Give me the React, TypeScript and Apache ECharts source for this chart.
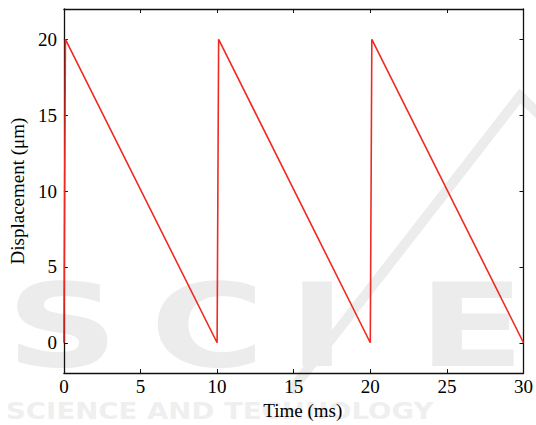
import React, { useEffect, useRef } from "react";
import * as echarts from "echarts";

const timeMs = [0, 0.1, 10, 10.1, 20, 20.1, 30];
const displacementUm = [0, 20, 0, 20, 0, 20, 0];
const yTicks = [0, 5, 10, 15, 20];
const xTicks = [0, 5, 10, 15, 20, 25, 30];

const SERIF = "Liberation Serif";
const WM = "#ececec";

export default function App() {
  const ref = useRef<HTMLDivElement>(null);
  useEffect(() => {
    if (!ref.current) return;
    const chart = echarts.init(ref.current, undefined, { renderer: "svg" });
    const axisLine = { show: true, onZero: false, lineStyle: { color: "#111", width: 1.3 } };
    const tick = { show: true, inside: true, length: 4, lineStyle: { color: "#111", width: 1 } };
    const letter = (t: string, x: number) => ({
      type: "text",
      x,
      y: 268,
      scaleX: 1.35,
      silent: true,
      z: -10,
      style: { text: t, fill: WM, fontSize: 116, fontWeight: "bold", fontFamily: "DejaVu Sans" },
    });
    chart.setOption({
      animation: false,
      backgroundColor: "#fff",
      graphic: [
        letter("S", 6),
        letter("C", 150),
        letter("I", 288),
        letter("E", 418),
        {
          type: "polyline",
          silent: true,
          z: -10,
          shape: { points: [[290, 392], [520, 96], [545, 120]] },
          style: { stroke: WM, lineWidth: 10, fill: null },
        },
        {
          type: "text",
          x: 6,
          y: 399,
          scaleX: 1.2,
          silent: true,
          z: -10,
          style: { text: "SCIENCE AND TECHNOLOGY", fill: "#efefef", fontSize: 23, fontWeight: "bold", fontFamily: "DejaVu Sans" },
        },
      ],
      grid: { left: 60, right: 7, top: 9, bottom: 47, containLabel: false },
      xAxis: [
        {
          type: "value",
          min: 0,
          max: 30,
          interval: 5,
          position: "bottom",
          axisLine,
          axisTick: { ...tick, customValues: xTicks },
          splitLine: { show: false },
          axisLabel: { customValues: xTicks, color: "#000", fontFamily: SERIF, fontSize: 19, margin: 4 },
          name: "Time (ms)",
          nameLocation: "middle",
          nameGap: 25,
          nameTextStyle: { color: "#000", fontFamily: SERIF, fontSize: 19, padding: [0, 0, 0, 18] },
        },
        {
          type: "value",
          min: 0,
          max: 30,
          interval: 5,
          position: "top",
          axisLine,
          axisTick: { ...tick, customValues: xTicks },
          splitLine: { show: false },
          axisLabel: { show: false },
        },
      ],
      yAxis: [
        {
          type: "value",
          min: -2,
          max: 22,
          position: "left",
          axisLine,
          axisTick: { ...tick, customValues: yTicks },
          splitLine: { show: false },
          axisLabel: { customValues: yTicks, color: "#000", fontFamily: SERIF, fontSize: 19, margin: 7 },
          name: "Displacement (μm)",
          nameLocation: "middle",
          nameGap: 32,
          nameTextStyle: { color: "#000", fontFamily: SERIF, fontSize: 19 },
        },
        {
          type: "value",
          min: -2,
          max: 22,
          position: "right",
          axisLine,
          axisTick: { ...tick, customValues: yTicks },
          splitLine: { show: false },
          axisLabel: { show: false },
        },
      ],
      series: [
        {
          type: "line",
          xAxisIndex: 0,
          yAxisIndex: 0,
          data: timeMs.map((t, i) => [t, displacementUm[i]]),
          showSymbol: false,
          symbol: "none",
          lineStyle: { color: "#f02a22", width: 1.6 },
          z: 3,
        },
      ],
    });
    return () => chart.dispose();
  }, []);
  return (
    <div
      ref={ref}
      style={{ position: "fixed", left: 0, top: 0, width: 536, height: 425 }}
    />
  );
}
